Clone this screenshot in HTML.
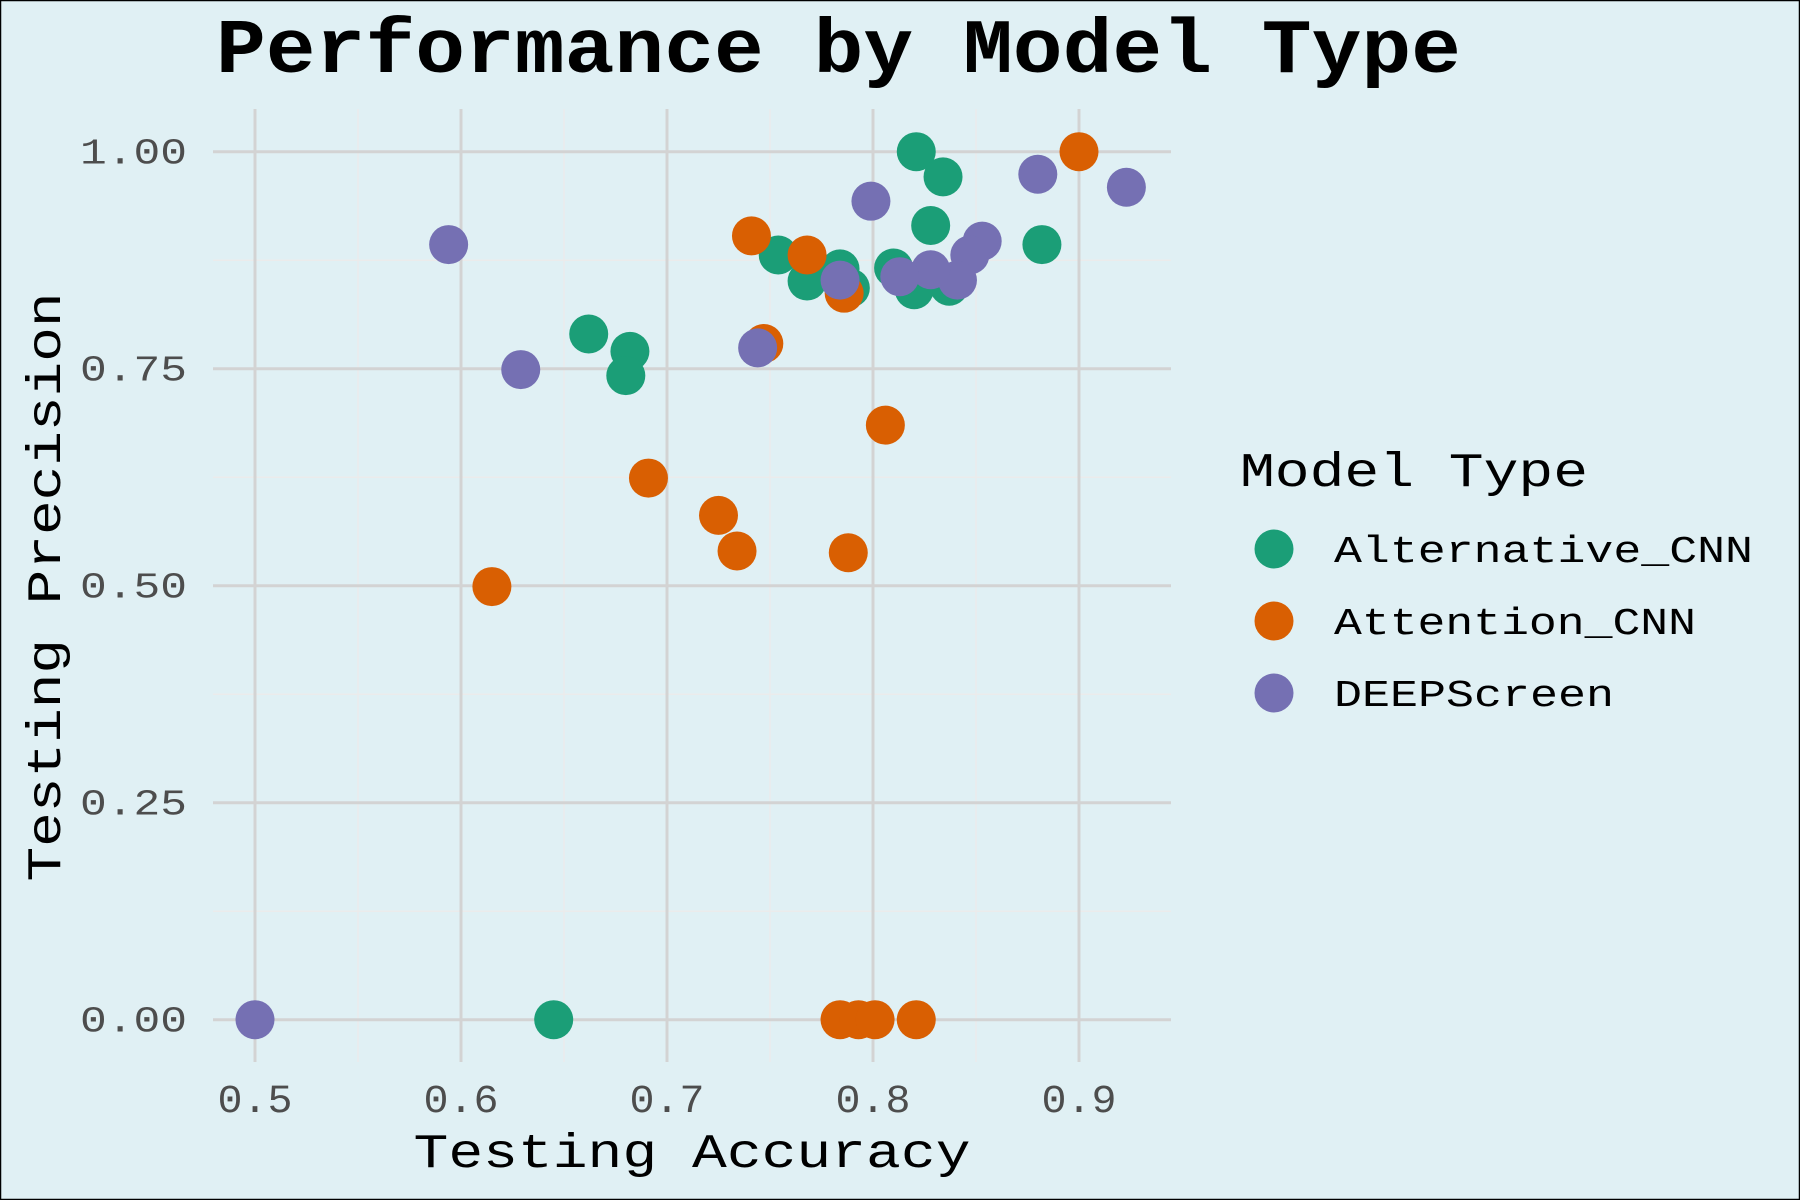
<!DOCTYPE html>
<html><head><meta charset="utf-8"><style>
html,body{margin:0;padding:0;background:#e0f0f4}
svg{display:block}
text{font-family:"Liberation Mono","DejaVu Sans Mono",monospace}
</style></head><body>
<svg id="chart" width="1800" height="1200" viewBox="0 0 1800 1200" xmlns="http://www.w3.org/2000/svg">
<rect x="0.5" y="0.5" width="1799" height="1199" fill="#e0f0f4" stroke="#000" stroke-width="1.5"/>
<g id="grid"></g>
<g id="points"></g>
<g id="axes"></g>
<text x="216" y="72" font-size="77" font-weight="bold" textLength="1245" lengthAdjust="spacingAndGlyphs">Performance by Model Type</text>
<text x="692" y="1167" font-size="48" text-anchor="middle" textLength="557" lengthAdjust="spacingAndGlyphs">Testing Accuracy</text>
<text transform="translate(60,587) rotate(-90)" font-size="48" text-anchor="middle" textLength="589" lengthAdjust="spacingAndGlyphs">Testing Precision</text>
<g id="legend"></g>
</svg>
<script>
const categories = ["Alternative_CNN","Attention_CNN","DEEPScreen"];
const colors = ["#1b9e77","#d95f02","#7570b3"];
const altX = [.821,.834,.828,.754,.784,.768,.789,.810,.820,.837,.882,.662,.682,.680,.645];
const altY = [1.0,.971,.915,.881,.865,.851,.843,.866,.841,.845,.893,.790,.770,.742,0];
const attX = [.900,.741,.768,.786,.747,.806,.691,.725,.734,.788,.615,.784,.793,.801,.821];
const attY = [1.0,.903,.881,.837,.779,.685,.624,.581,.540,.538,.499,0,0,0,0];
const deepX = [.594,.629,.799,.880,.923,.853,.847,.841,.828,.813,.784,.744,.5];
const deepY = [.893,.749,.943,.974,.959,.897,.881,.852,.864,.856,.852,.774,0];
const xTicks = [0.5,0.6,0.7,0.8,0.9];
const xTickLabels = ["0.5","0.6","0.7","0.8","0.9"];
const yTicks = [0,0.25,0.5,0.75,1];
const yTickLabels = ["0.00","0.25","0.50","0.75","1.00"];

const NS="http://www.w3.org/2000/svg";
const P={l:213,r:1171,t:109,b:1062};
const sx=v=>255+(v-0.5)*2060;
const sy=v=>1019.7-v*868;
function mk(tag,attrs,parent){const e=document.createElementNS(NS,tag);for(const k in attrs)e.setAttribute(k,attrs[k]);parent.appendChild(e);return e;}
const grid=document.getElementById('grid'),axes=document.getElementById('axes'),pts=document.getElementById('points'),leg=document.getElementById('legend');
for(let i=0;i<xTicks.length;i++){const v=xTicks[i]+0.05;const x=sx(v);if(x<P.r){const l=mk('line',{x1:x,x2:x,y1:P.t,y2:P.b,stroke:'#ebebeb','stroke-width':1.5},grid);

}}
for(let i=0;i<yTicks.length-1;i++){const v=yTicks[i]+0.125;const y=sy(v);const l=mk('line',{x1:P.l,x2:P.r,y1:y,y2:y,stroke:'#ebebeb','stroke-width':1.5},grid);

}
xTicks.forEach((v,i)=>{const x=sx(v);const l=mk('line',{x1:x,x2:x,y1:P.t,y2:P.b,stroke:'#d3d3d3','stroke-width':3},grid);


const t=mk('text',{x:x,y:1112,'font-size':40,fill:'#4d4d4d','text-anchor':'middle',textLength:75,lengthAdjust:'spacingAndGlyphs'},axes);t.textContent=xTickLabels[i];

});
yTicks.forEach((v,i)=>{const y=sy(v);const l=mk('line',{x1:P.l,x2:P.r,y1:y,y2:y,stroke:'#d3d3d3','stroke-width':3},grid);


const t=mk('text',{x:187,y:y+12,'font-size':36,fill:'#4d4d4d','text-anchor':'end',textLength:107,lengthAdjust:'spacingAndGlyphs'},axes);t.textContent=yTickLabels[i];

});
const series=[[altX,altY],[attX,attY],[deepX,deepY]];
series.forEach((s,k)=>{s[0].forEach((xv,i)=>{const c=mk('circle',{cx:sx(xv),cy:sy(s[1][i]),r:19.5,fill:colors[k]},pts);

});});
const lt=mk('text',{x:1240,y:486,'font-size':48,textLength:348,lengthAdjust:'spacingAndGlyphs'},leg);lt.textContent='Model Type';


const lw=[419,362,280];
categories.forEach((c,i)=>{const y=549+i*72;const k=mk('circle',{cx:1274,cy:y,r:19.5,fill:colors[i]},leg);


const t=mk('text',{x:1334,y:y+13,'font-size':38,textLength:lw[i],lengthAdjust:'spacingAndGlyphs'},leg);t.textContent=c;

});
</script>
</body></html>
